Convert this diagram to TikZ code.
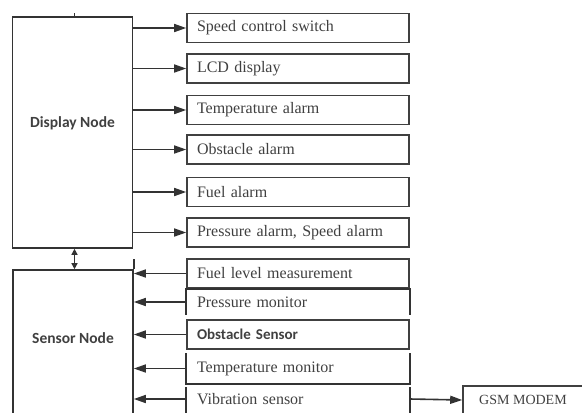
\documentclass[tikz,border=0pt]{standalone}
\usepackage{fontspec}
\setmainfont{Liberation Serif}
\newfontfamily\unitfont{Carlito}
\usetikzlibrary{arrows.meta}
\colorlet{LineCol}{black!80}
\colorlet{TextCol}{black!75}
\tikzset{
  block style/.style={
    x=1pt, y=-1pt,
    line width=1.6pt,
    LineCol,
  },
  unit box/.style={
    draw,
    minimum width=120pt,
    minimum height=#1,
    inner sep=0pt,
  },
  unit label/.style={
    TextCol,
    font=\unitfont\bfseries\fontsize{15.5}{17}\selectfont,
  },
  item box/.style={
    draw,
    text width=202pt,
    inner xsep=10pt,
    inner ysep=0pt,
    minimum height=#1,
    align=left,
    TextCol,
    font=\fontsize{16}{18}\selectfont,
  },
  item box/.default=29pt,
  open box/.style={
    item box=#1,
    draw=none,
  },
  open box/.default=29pt,
  link/.style={
    line width=1.6pt,
    -{Triangle[length=12pt,width=8pt]},
  },
  both link/.style={
    line width=1.3pt,
    {Triangle[length=6pt,width=6pt]}-{Triangle[length=6pt,width=6pt]},
  },
}

\begin{document}
\begin{tikzpicture}[block style]
  \useasboundingbox (0,0) rectangle (582,413);
  % main units
  \node[unit box=231pt] (disp) at (72.5,132.5) {};
  \node[unit label] (displbl) at ([yshift=9.5pt]disp.center) {Display Node};
  \node[unit box=170pt] (sens) at (73,355) {};
  \node[unit label] (senslbl) at ([yshift=17pt]sens.center) {Sensor Node};
  \draw ([xshift=2pt]disp.north) -- ++(0,-3);
  \draw ([yshift=10pt]sens.north east) -- (sens.north east);
  \draw[both link] ([xshift=2pt]disp.south) -- ([xshift=2pt]disp.south |- sens.north);
  % outputs
  \node[item box] (sw)  at (298,28)    {Speed control switch};
  \node[item box] (lcd) at (298,68.5)  {LCD display};
  \node[item box] (ta)  at (298,110)   {Temperature alarm};
  \node[item box] (oa)  at (298,149.5) {Obstacle alarm};
  \node[item box] (fa)  at (298,192)   {Fuel alarm};
  \node[item box] (pa)  at (298,232.5) {Pressure alarm, Speed alarm};
  \foreach \n in {sw,lcd,ta,oa,fa,pa}
    \draw[link] (\n.west -| disp.east) -- (\n.west);
  % inputs
  \node[item box] (fl) at (298,273.5) {Fuel level measurement};
  \node[open box=24pt] (pm) at (298,302) {Pressure monitor};
  \node[item box, font=\unitfont\bfseries\fontsize{15}{17}\selectfont] (os) at (298,334.5) {Obstacle Sensor};
  \node[open box] (tm) at (298,368.5) {Temperature monitor};
  \node[open box=22pt] (vs) at (298,399) {Vibration sensor};
  \draw (pm.south west) -- (pm.north west) -- (pm.north east) -- (pm.south east);
  \draw (tm.north west) |- (tm.south east) -- (tm.north east);
  \draw (vs.north west) -- ([yshift=-20pt]vs.south west);
  \draw (vs.north east) -- ([yshift=-20pt]vs.south east);
  \foreach \n in {fl,pm,os,tm,vs}
    \draw[link] (\n.west) -- (\n.west -| sens.east);
  % modem
  \node[unit box=28pt, minimum width=120pt, TextCol, font=\fontsize{14}{16}\selectfont] (gsm) at (523,400) {GSM MODEM};
  \draw[link] (vs.east) -- (gsm.west);
\end{tikzpicture}
\end{document}
